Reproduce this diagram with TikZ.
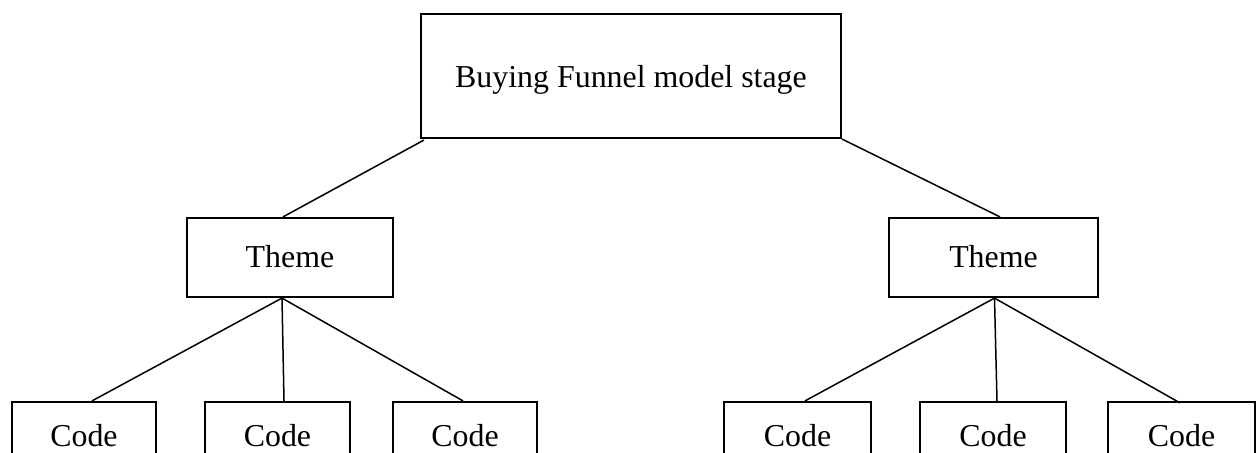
\documentclass[tikz,border=0pt]{standalone}
\usepackage{fontspec}
\setmainfont{Liberation Serif}
\begin{document}
\begin{tikzpicture}[x=1bp,y=-1bp,
  box/.style={draw=black,line width=2.2bp,rectangle,inner sep=0pt,
    text depth=0bp,font=\fontsize{32}{36}\selectfont},
  link/.style={draw=black,line width=1.5bp}]
\useasboundingbox (0,0) rectangle (1256,453);
\clip (0,0) rectangle (1256,453);

% root
\node[box,text height=24bp,minimum width=420bp,minimum height=124bp] (root) at (631,76) {Buying Funnel model stage};

% themes
\node[box,text height=21bp,minimum width=206bp,minimum height=79bp] (lt) at (290,257.5) {Theme};
\node[box,text height=21bp,minimum width=209bp,minimum height=79bp] (rt) at (993.5,257.5) {Theme};

% codes (lower edges run past the page)
\tikzset{codebox/.style={box,text height=20bp,minimum height=70bp}}
\node[codebox,minimum width=144bp] (c1) at (84,437) {Code};
\node[codebox,minimum width=145bp] (c2) at (277.5,437) {Code};
\node[codebox,minimum width=144bp] (c3) at (465,437) {Code};
\node[codebox,minimum width=147bp] (c4) at (797.5,437) {Code};
\node[codebox,minimum width=146bp] (c5) at (993,437) {Code};
\node[codebox,minimum width=147bp] (c6) at (1181.5,437) {Code};

% junction points under the themes
\coordinate (lj) at ([xshift=-8bp]lt.south);
\coordinate (rj) at ([xshift=1bp]rt.south);

% root to themes
\draw[link] ([xshift=4bp,yshift=-1bp]root.south west) -- ([xshift=-7bp]lt.north);
\draw[link] (root.south east) -- ([xshift=6.5bp]rt.north);

% themes to codes
\draw[link] (lj) -- ([xshift=8bp]c1.north);
\draw[link] (lj) -- ([xshift=6.5bp]c2.north);
\draw[link] (lj) -- ([xshift=-2bp]c3.north);
\draw[link] (rj) -- ([xshift=7.5bp]c4.north);
\draw[link] (rj) -- ([xshift=4bp]c5.north);
\draw[link] (rj) -- ([xshift=-1.5bp,yshift=-2bp]c6.north);
\end{tikzpicture}
\end{document}
